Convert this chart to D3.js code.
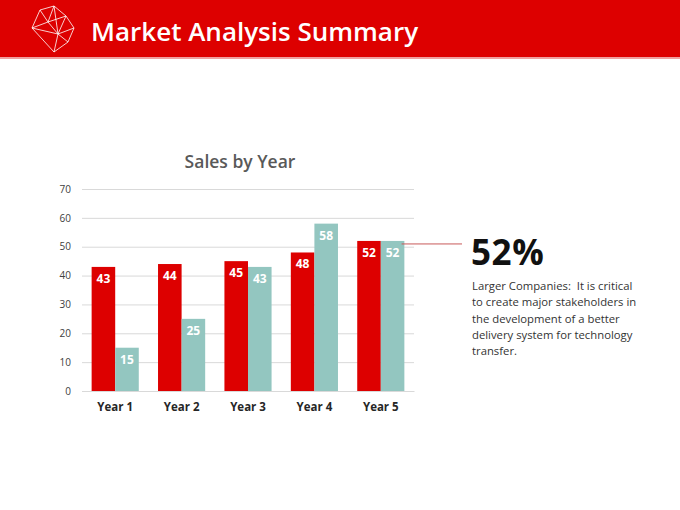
<!DOCTYPE html>
<html>
<head>
<meta charset="utf-8">
<script src="https://cdn.jsdelivr.net/npm/d3@7"></script>
<style>
  body { margin: 0; background: #fff; }
  svg { display: block; font-family: "Open Sans", "Noto Sans", sans-serif; }
</style>
</head>
<body>
<svg width="680" height="510"></svg>
<script>
// chart values
const years = ["Year 1", "Year 2", "Year 3", "Year 4", "Year 5"];
const series1 = [43, 44, 45, 48, 52];
const series2 = [15, 25, 43, 58, 52];
const yTicks = [0, 10, 20, 30, 40, 50, 60, 70];

const svg = d3.select("svg");
const red = "#dd0000";
const teal = "#93c6c0";

// header band
svg.append("rect").attr("x", 0).attr("y", 0).attr("width", 680).attr("height", 58).attr("fill", red);
svg.append("rect").attr("x", 0).attr("y", 57).attr("width", 680).attr("height", 2).attr("fill", "#f0a0a0");
svg.append("text")
  .attr("x", 91).attr("y", 41)
  .attr("fill", "#fff")
  .attr("font-size", "26px")
  .attr("font-weight", 600)
  .text("Market Analysis Summary");

// wireframe gem icon
const icon = svg.append("g").attr("transform", "translate(28,4)")
  .attr("fill", "none").attr("stroke", "#fff").attr("stroke-opacity", 0.8).attr("stroke-width", 1);
const pts = { a: [12, 6], b: [26, 2], c: [38, 12], d: [46, 24], e: [40, 38], f: [26, 48], g: [4, 24], h: [20, 18], i: [30, 30] };
const edges = [["a","b"],["b","c"],["c","d"],["d","e"],["e","f"],["f","g"],["g","a"],
  ["a","h"],["b","h"],["h","c"],["h","i"],["c","i"],["i","d"],["i","e"],["i","f"],["h","g"],["g","i"],["b","i"]];
edges.forEach(([p, q]) => {
  icon.append("line").attr("x1", pts[p][0]).attr("y1", pts[p][1]).attr("x2", pts[q][0]).attr("y2", pts[q][1]);
});

// chart
const x0 = d3.scaleBand().domain(years).range([82, 414]).paddingInner(0.29).paddingOuter(0.145);
const x1 = d3.scaleBand().domain([0, 1]).range([0, x0.bandwidth()]);
const y = d3.scaleLinear().domain([0, 70]).range([391, 189]);

svg.append("text")
  .attr("x", 240).attr("y", 168)
  .attr("text-anchor", "middle")
  .attr("fill", "#595959")
  .attr("font-size", "17.5px")
  .attr("font-weight", 600)
  .text("Sales by Year");

const yAxis = svg.append("g").attr("transform", "translate(82,0)")
  .call(d3.axisLeft(y).tickValues(yTicks).tickSize(-332).tickFormat(d3.format("d")));
yAxis.select(".domain").remove();
yAxis.selectAll(".tick line").attr("stroke", "#d9d9d9");
yAxis.selectAll(".tick text").attr("x", -11).attr("fill", "#404040").attr("font-size", "10px")
  .attr("font-family", "'Open Sans', sans-serif");

const xAxis = svg.append("g").attr("transform", "translate(0,391)")
  .call(d3.axisBottom(x0).tickSize(0));
xAxis.select(".domain").attr("stroke", "#d9d9d9");
xAxis.selectAll(".tick text").attr("dy", "1.45em").attr("fill", "#262626").attr("font-size", "11.5px")
  .attr("font-weight", 700).attr("font-family", "'Open Sans', sans-serif");

const groups = svg.append("g").selectAll("g").data(years).join("g")
  .attr("transform", d => `translate(${x0(d)},0)`);

[series1, series2].forEach((vals, s) => {
  groups.append("rect")
    .attr("x", x1(s))
    .attr("y", (d, i) => y(vals[i]))
    .attr("width", x1.bandwidth())
    .attr("height", (d, i) => y(0) - y(vals[i]))
    .attr("fill", s === 0 ? red : teal);
  groups.append("text")
    .attr("x", x1(s) + x1.bandwidth() / 2)
    .attr("y", (d, i) => y(vals[i]) + 16)
    .attr("text-anchor", "middle")
    .attr("fill", "#fff")
    .attr("font-size", "12px")
    .attr("font-weight", 700)
    .text((d, i) => vals[i]);
});

// callout
const last = years.length - 1;
svg.append("line")
  .attr("x1", x0(years[last]) + x1(1) + x1.bandwidth() / 2 + 9).attr("x2", 462)
  .attr("y1", y(series2[last]) + 3).attr("y2", y(series2[last]) + 3)
  .attr("stroke", "#c85a5a").attr("stroke-width", 1);

svg.append("text")
  .attr("x", 471).attr("y", 265)
  .attr("fill", "#111")
  .attr("font-size", "35px")
  .attr("font-weight", 700)
  .attr("letter-spacing", "0.6px")
  .text(series2[last] + "%");

const para = ["Larger Companies:  It is critical", "to create major stakeholders in",
  "the development of a better", "delivery system for technology", "transfer."];
svg.append("g").selectAll("text").data(para).join("text")
  .attr("x", 472)
  .attr("y", (d, i) => 290 + i * 16.3)
  .attr("fill", "#333")
  .attr("font-size", "11.3px")
  .attr("xml:space", "preserve")
  .style("white-space", "pre")
  .text(d => d);
</script>
</body>
</html>
